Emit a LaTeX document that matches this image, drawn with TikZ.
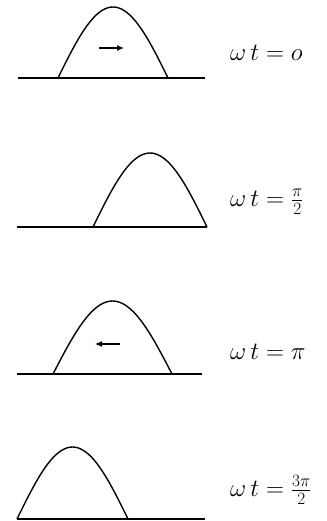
\documentclass[tikz,border=0pt]{standalone}
\usetikzlibrary{arrows.meta}
\begin{document}
\begin{tikzpicture}[
    x=1pt, y=-1pt,
    ground/.style={line width=1.6pt},
    hump/.style={line width=1.4pt, line join=round},
    motion/.style={line width=1.2pt, -{Latex[length=7pt, width=6pt]}},
    lbl/.style={anchor=west, inner sep=0pt, font=\fontsize{26}{30}\selectfont},
]
\useasboundingbox (0,0) rectangle (326,521);

% Hump: centre, half width, height, base line
\newcommand{\wave}[4]{%
  \draw[hump] plot[domain=-1:1, samples=41, smooth]
    ({#1 + #2*\x}, {#4 - #3*cos(90*\x)});}

% wt = 0
\draw[ground] (18,78) -- (205,78);
\wave{113}{55}{71}{78}
\coordinate (a1s) at (99,48);
\coordinate (a1e) at (124,48);
\draw[motion] (a1s) -- (a1e);
\node[lbl] (l1) at (230,53) {$\omega\, t = o$};

% wt = pi/2
\draw[ground] (17,227) -- (207,227);
\wave{150}{57}{74}{227}
\node[lbl] (l2) at (230,202) {$\omega\, t = \frac{\pi}{2}$};

% wt = pi
\draw[ground] (17,374) -- (202,374);
\wave{112.5}{59.5}{73}{374}
\coordinate (a3s) at (120,344);
\coordinate (a3e) at (95,344);
\draw[motion] (a3s) -- (a3e);
\node[lbl] (l3) at (230,352) {$\omega\, t = \pi$};

% wt = 3pi/2
\draw[ground] (17,519) -- (205,519);
\wave{72.5}{55.5}{72}{519}
\node[lbl] (l4) at (230,490) {$\omega\, t = \frac{3\pi}{2}$};

\end{tikzpicture}
\end{document}
